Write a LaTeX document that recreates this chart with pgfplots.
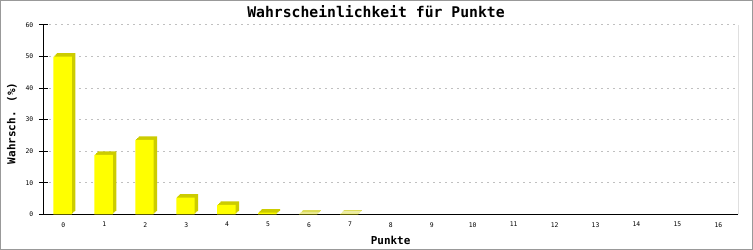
\documentclass[border=0pt]{standalone}
\usepackage{pgfplots}
\pgfplotsset{compat=1.18}
\usepackage{pgfplotstable}
\usepackage{fontspec}
\setmainfont{DejaVu Sans}
\newfontfamily\monofont{DejaVu Sans Mono}
\definecolor{baryellow}{HTML}{FFFF00}
\definecolor{bardark}{HTML}{CCCC00}
\definecolor{framegray}{HTML}{999999}
\definecolor{gridgray}{HTML}{C0C0C0}
\pgfplotstableread{
x y
0 50
1 18.8
2 23.56
3 5.28
4 2.96
5 0.53
6 0.15
7 0.1
8 0
9 0
10 0
11 0
12 0
13 0
14 0
15 0
16 0
}\probdata
\begin{document}
\begin{tikzpicture}
\useasboundingbox (0,0) rectangle (753bp,250bp);
\fill[white] (0,0) rectangle (753bp,250bp);
\draw[framegray, line width=1bp] (0.5bp,0.5bp) rectangle (752bp,249.5bp);
\node[font=\monofont\bfseries\fontsize{14.8}{16}\selectfont] at (376bp,238bp) {Wahrscheinlichkeit für Punkte};
\begin{axis}[
  at={(43.3bp,35.7bp)}, anchor=south west,
  scale only axis, width=694.7bp, height=189.3bp,
  xmin=-0.49, xmax=16.48, ymin=0, ymax=60,
  axis x line*=bottom, axis y line*=left,
  axis line style={-, line width=1bp, black},
  ytick={0,10,...,60}, xtick={0,...,16},
  ymajorgrids, grid style={gridgray, dash pattern=on 2bp off 4bp, line width=1bp},
  major tick length=9bp, tick align=center,
  ytick style={black, line width=1bp}, xtick style={draw=none},
  tick label style={font=\monofont\fontsize{6.4}{7}\selectfont},
  yticklabel style={xshift=-2bp},
  /pgf/number format/assume math mode=true,
  unbounded coords=discard,
  y filter/.expression={y==0 ? nan : y},
  xlabel={Punkte}, ylabel={Wahrsch. (\%)},
  label style={font=\monofont\bfseries\fontsize{11}{12}\selectfont},
  xlabel style={at={(axis description cs:0.5,0)}, anchor=center, yshift=-25.7bp},
  ylabel style={at={(axis description cs:-0.045,0.48)}, anchor=center},
]
\addplot[ybar, bar width=18.4bp, bar shift=-0.7bp, fill=bardark, draw=none, xshift=3.5bp, yshift=3.5bp] table {\probdata};
\addplot[ybar, bar width=18.4bp, bar shift=-0.7bp, fill=bardark, draw=none, xshift=2.7bp, yshift=2.7bp] table {\probdata};
\addplot[ybar, bar width=18.4bp, bar shift=-0.7bp, fill=bardark, draw=none, xshift=1.8bp, yshift=1.8bp] table {\probdata};
\addplot[ybar, bar width=18.4bp, bar shift=-0.7bp, fill=bardark, draw=none, xshift=0.9bp, yshift=0.9bp] table {\probdata};
\addplot[ybar, bar width=18.4bp, bar shift=-0.7bp, fill=baryellow, draw=none] table {\probdata};
\draw[black, line width=1bp] (rel axis cs:1,0) -- (rel axis cs:1,1);
\end{axis}
\end{tikzpicture}
\end{document}
